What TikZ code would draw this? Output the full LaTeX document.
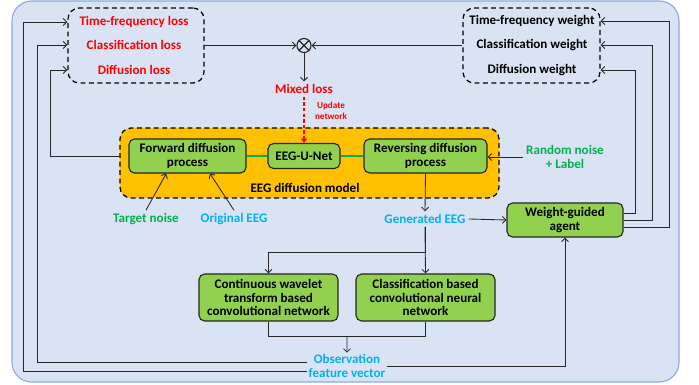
\documentclass[tikz,border=0pt]{standalone}
\usepackage{fontspec}
\setmainfont{Carlito}
\usetikzlibrary{arrows.meta, positioning, calc}
\definecolor{bgblue}{HTML}{DAE3F3}
\definecolor{bgedge}{HTML}{8FAADC}
\definecolor{lossred}{HTML}{FF0000}
\definecolor{noisegreen}{HTML}{00B050}
\definecolor{eegblue}{HTML}{00B0F0}
\definecolor{modelorange}{HTML}{FFC000}
\definecolor{boxgreen}{HTML}{92D050}
\definecolor{dkline}{HTML}{262626}

\begin{document}
\begin{tikzpicture}[
  x=0.025cm, y=-0.025cm,
  >={Straight Barb[length=2.5pt, width=5pt]},
  font=\fontsize{9.3}{9.9}\selectfont\bfseries,
  gbox/.style={
    draw=dkline, line width=0.8pt, fill=boxgreen, rounded corners=4pt,
    align=center, inner sep=2pt
  },
  dashbox/.style={
    draw=black, line width=0.9pt, dash pattern=on 3.5pt off 2.5pt,
    rounded corners=8pt
  },
  lbl/.style={text=#1, align=center, inner sep=2pt},
  arr/.style={->, line width=0.6pt, dkline},
  wire/.style={line width=0.6pt, dkline},
]

\useasboundingbox (0,0) rectangle (699,385);

% Background
\filldraw[fill=bgblue, draw=bgedge, line width=0.8pt, rounded corners=14pt]
  (12,1) rectangle (679,382);

% ===== Loss and weight boxes =====
\node[dashbox, minimum width=3.4cm, minimum height=1.875cm] (lossbox) at (136,45.5) {};
\node[lbl=lossred] (tfl) at (134,22) {Time-frequency loss};
\node[lbl=lossred] (cll) at (134,45) {Classification loss};
\node[lbl=lossred] (dfl) at (134,70) {Diffusion loss};

\node[dashbox, minimum width=3.425cm, minimum height=1.875cm] (wbox) at (531.5,45.5) {};
\node[lbl=black] (tfw) at (532,21) {Time-frequency weight};
\node[lbl=black] (clw) at (532,45) {Classification weight};
\node[lbl=black] (dfw) at (532,70) {Diffusion weight};

% Product
\node[circle, draw=dkline, line width=0.8pt, minimum size=0.35cm, inner sep=0pt] (otimes) at (304,45.5) {};
\draw[dkline, line width=0.8pt] (otimes.north west) -- (otimes.south east)
  (otimes.north east) -- (otimes.south west);

\node[lbl=lossred] (mixed) at (304,89) {Mixed loss};
\node[lbl=lossred, font=\fontsize{6.5}{7.5}\selectfont\bfseries] (upd) at (331,111) {Update\\network};

% ===== EEG diffusion model =====
\node[fill=modelorange, dashbox, minimum width=9.475cm, minimum height=1.75cm] (dm) at (309.5,163) {};
\node[gbox, minimum width=2.925cm, minimum height=0.85cm] (fwd) at (187.5,156) {Forward diffusion\\process};
\node[gbox, minimum width=1.8cm, minimum height=0.625cm] (unet) at (304,156) {EEG-U-Net};
\node[gbox, minimum width=3.075cm, minimum height=0.85cm] (rev) at (425.5,156) {Reversing diffusion\\process};
\node[lbl=black] (dmlabel) at (305,188) {EEG diffusion model};

% Inputs and outputs
\node[lbl=noisegreen] (tnoise) at (146,219) {Target noise};
\node[lbl=eegblue] (oeeg) at (234,219) {Original EEG};
\node[lbl=noisegreen] (rnoise) at (565,157) {Random noise\\+ Label};
\node[lbl=eegblue] (gen) at (425,219) {Generated EEG};

\node[gbox, minimum width=2.9cm, minimum height=0.85cm] (agent) at (565,220) {Weight-guided\\agent};

% ===== Networks =====
\node[gbox, minimum width=3.475cm, minimum height=1.175cm] (cwt) at (268.5,297.5)
  {Continuous wavelet\\transform based\\convolutional network};
\node[gbox, minimum width=3.475cm, minimum height=1.175cm] (cls) at (425.5,297.5)
  {Classification based\\convolutional neural\\network};
\node[lbl=eegblue, inner sep=1pt] (obs) at (347,366) {Observation\\feature vector};

% Rails
\coordinate (lrail1) at (23,0);
\coordinate (lrail2) at (37,0);
\coordinate (lrail3) at (50,0);
\coordinate (rrail1) at (635,0);
\coordinate (rrail2) at (652,0);
\coordinate (rrail3) at (669,0);
\coordinate (merge) at ($(cwt.south)!0.5!(cls.south)+(0,15)$);

% ===== Arrows =====
\draw[arr] (lossbox.east |- otimes) -- (otimes);
\draw[arr] (wbox.west |- otimes) -- (otimes);
\draw[arr] (otimes) -- (mixed);
\draw[->, lossred, line width=0.8pt, dash pattern=on 2.5pt off 1.5pt, >={Triangle[length=3pt, width=4pt]}]
  (mixed) -- (unet);

\draw[noisegreen, line width=0.8pt] (fwd.east) -- (unet.west) (unet.east) -- (rev.east -| rev.west);
\draw[arr] (rnoise.west) -- (rev.east |- rnoise.west);
\draw[arr] (tnoise.north) -- ($(fwd.south west)!0.32!(fwd.south east)$);
\draw[arr] (oeeg.north) -- ($(fwd.south west)!0.69!(fwd.south east)$);

\draw[arr] (rev.south) -- (gen.north);
\draw[arr] (gen.east) -- (agent.west);
\draw[arr] (gen.south) |- ($(cwt.north)+(0,-21)$) -- (cwt.north);
\draw[arr] (gen.south) -- (cls.north);

\draw[wire] (cwt.south) |- (merge) -| (cls.south);
\draw[arr] (merge) -- (obs.north);
\draw[arr] (obs.east) -| (agent.south);

% Feedback to losses
\draw[arr] ($(obs.west)+(0,5)$) -| (lrail1 |- tfl) -- (lossbox.west |- tfl);
\draw[arr] ($(obs.west)+(0,-4)$) -| (lrail2 |- cll) -- (lossbox.west |- cll);
\draw[arr] (dm.west |- fwd.west) -| (lrail3 |- dfl) -- (lossbox.west |- dfl);

% Feedback to weights
\draw[arr] ($(agent.east)+(0,-7)$) -| (rrail1 |- dfw) -- (wbox.east |- dfw);
\draw[arr] (agent.east) -| (rrail2 |- clw) -- (wbox.east |- clw);
\draw[arr] ($(agent.east)+(0,7)$) -| (rrail3 |- tfw) -- (wbox.east |- tfw);

\end{tikzpicture}
\end{document}
